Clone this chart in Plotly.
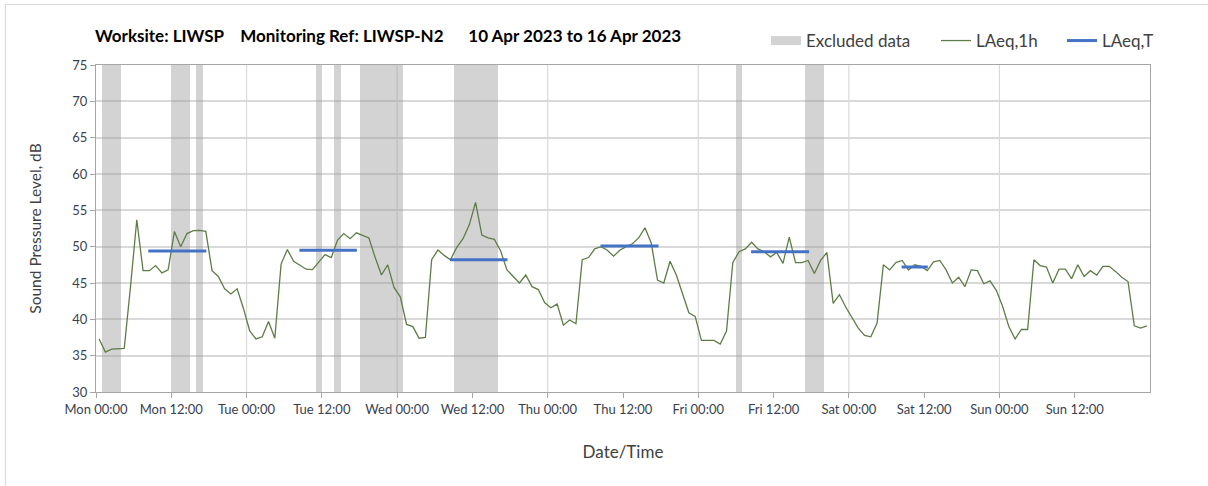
import pandas as pd
import plotly.graph_objects as go

# ---- data ----
laeq_1h = [
    37.3, 35.5, 35.9, 36.0, 36.0, 44.5, 53.7, 46.7, 46.7, 47.4, 46.4, 46.8,
    52.1, 50.0, 51.8, 52.2, 52.25, 52.1, 46.7, 45.9, 44.2, 43.5, 44.2, 41.5,
    38.4, 37.3, 37.6, 39.7, 37.4, 47.6, 49.6, 48.0, 47.5, 46.9, 46.85, 47.9,
    48.9, 48.5, 50.9, 51.8, 51.1, 51.9, 51.5, 51.2, 48.5, 46.1, 47.5, 44.4,
    43.1, 39.3, 39.0, 37.4, 37.5, 48.2, 49.55, 48.8, 48.2, 49.9, 51.1, 53.0,
    56.1, 51.6, 51.2, 51.0, 49.4, 46.8, 45.9, 45.0, 46.1, 44.5, 44.1, 42.3,
    41.6, 42.1, 39.2, 39.9, 39.4, 48.2, 48.5, 49.7, 50.0, 49.5, 48.7, 49.5,
    50.0, 50.4, 51.2, 52.6, 50.5, 45.4, 45.0, 48.0, 46.1, 43.6, 40.9, 40.4,
    37.1, 37.1, 37.1, 36.6, 38.4, 47.8, 49.3, 49.7, 50.6, 49.7, 49.3, 48.6,
    49.2, 47.7, 51.3, 47.8, 47.8, 48.1, 46.3, 48.1, 49.2, 42.2, 43.4, 41.7,
    40.2, 38.8, 37.8, 37.6, 39.5, 47.5, 46.8, 47.8, 48.1, 46.8, 47.5, 47.3,
    46.7, 47.9, 48.1, 46.8, 45.0, 45.8, 44.5, 46.8, 46.7, 44.9, 45.3, 44.0,
    41.8, 39.0, 37.3, 38.6, 38.6, 48.2, 47.4, 47.2, 45.0, 46.9, 46.9, 45.6,
    47.5, 45.9, 46.7, 46.1, 47.3, 47.3, 46.6, 45.8, 45.2, 39.1, 38.8, 39.1,
]
times_1h = pd.date_range("2023-04-10 00:30", periods=len(laeq_1h), freq="h")

excl_start = ["2023-04-10 01:00", "2023-04-10 12:00", "2023-04-10 16:00",
              "2023-04-11 11:00", "2023-04-11 14:00", "2023-04-11 18:00",
              "2023-04-12 09:00", "2023-04-14 06:00", "2023-04-14 17:00"]
excl_end = ["2023-04-10 04:00", "2023-04-10 15:00", "2023-04-10 17:00",
            "2023-04-11 12:00", "2023-04-11 15:00", "2023-04-12 01:00",
            "2023-04-12 16:00", "2023-04-14 07:00", "2023-04-14 20:00"]

laeqT_start = ["2023-04-10 08:20", "2023-04-11 08:25", "2023-04-12 08:25",
               "2023-04-13 08:25", "2023-04-14 08:25", "2023-04-15 08:25"]
laeqT_end = ["2023-04-10 17:35", "2023-04-11 17:35", "2023-04-12 17:35",
             "2023-04-13 17:40", "2023-04-14 17:40", "2023-04-15 12:35"]
laeqT_val = [49.4, 49.5, 48.2, 50.1, 49.3, 47.2]

x_range = ["2023-04-10 00:00", "2023-04-17 00:00"]
tick_times = pd.date_range("2023-04-10 00:00", "2023-04-16 12:00", freq="12h")
tick_labels = [t.strftime("%a %H:%M") for t in tick_times]
midnights = pd.date_range("2023-04-11", "2023-04-16", freq="D")
y_min, y_max = 30, 75
title_text = ("Worksite: LIWSP&nbsp;&nbsp;&nbsp;&nbsp;Monitoring Ref: LIWSP-N2"
              "&nbsp;&nbsp;&nbsp;&nbsp;&nbsp;&nbsp;10 Apr 2023 to 16 Apr 2023")

FONT = "Lato"
TXT = "#404040"
TICK = "#3a3f4f"
GRID = "#d9d9d9"
AXIS = "#a6a6a6"
BAND = "rgba(150,150,150,0.42)"

# ---- figure ----
es = pd.to_datetime(excl_start)
ee = pd.to_datetime(excl_end)
centers = es + (ee - es) / 2
widths = [(b - a).total_seconds() * 1000 for a, b in zip(es, ee)]

fig = go.Figure()
fig.add_trace(go.Bar(
    x=centers, y=[y_max - y_min] * len(centers), base=y_min, width=widths,
    marker=dict(color=BAND, line=dict(width=0)), showlegend=False,
    hoverinfo="skip", name="Excluded data",
))
fig.add_trace(go.Scatter(
    x=[None], y=[None], mode="lines", name="Excluded data",
    line=dict(color="#d3d3d3", width=9), legend="legend",
))
fig.add_trace(go.Scatter(
    x=times_1h, y=laeq_1h, mode="lines", name="LAeq,1h",
    line=dict(color="#5e7d46", width=1.3), legend="legend2",
))
tx, ty = [], []
for a, b, v in zip(laeqT_start, laeqT_end, laeqT_val):
    tx += [pd.Timestamp(a), pd.Timestamp(b), None]
    ty += [v, v, None]
fig.add_trace(go.Scatter(
    x=tx, y=ty, mode="lines", name="LAeq,T",
    line=dict(color="#4472c4", width=3), legend="legend3",
))

W, H = 1208, 486
L, R, T, B = 96, 58, 65, 94
for d in midnights:
    fig.add_shape(type="line", xref="x", yref="paper", x0=d, x1=d, y0=0, y1=1,
                  line=dict(color=GRID, width=1.2), layer="below")

pw, ph = W - L - R, H - T - B
def px2paper_x(px):
    return (px - L) / pw
def px2paper_y(py):
    return (H - B - py) / ph
fig.add_shape(type="rect", xref="paper", yref="paper",
              x0=px2paper_x(5.5), x1=px2paper_x(W + 10),
              y0=px2paper_y(H + 10), y1=px2paper_y(4.5),
              line=dict(color="#d9d9d9", width=1.2), fillcolor="rgba(0,0,0,0)",
              layer="below")

leg_common = dict(orientation="h", xref="container", yref="container",
                  xanchor="left", yanchor="middle", bgcolor="rgba(0,0,0,0)",
                  font=dict(family=FONT, size=17, color=TXT))
fig.update_layout(
    width=W, height=H,
    margin=dict(l=L, r=R, t=T, b=B, autoexpand=False),
    paper_bgcolor="white", plot_bgcolor="white",
    font=dict(family=FONT, color=TXT),
    bargap=0,
    title=dict(text="<b>" + title_text + "</b>", xref="container", yref="container",
               x=95 / W, y=1 - 36 / H, xanchor="left", yanchor="middle",
               font=dict(family=FONT, size=17, color="#000000")),
    legend=dict(x=766 / W, y=1 - 41 / H, **leg_common),
    legend2=dict(x=936 / W, y=1 - 41 / H, **leg_common),
    legend3=dict(x=1062 / W, y=1 - 41 / H, **leg_common),
    xaxis=dict(
        type="date", range=x_range, tickmode="array",
        tickvals=tick_times, ticktext=tick_labels,
        showgrid=False, showline=True, linecolor=AXIS, linewidth=1.3, mirror=True,
        ticks="outside", ticklen=5, tickcolor=AXIS,
        tickfont=dict(family=FONT, size=13, color=TICK),
        title=dict(text="Date/Time", standoff=30, font=dict(family=FONT, size=17, color=TXT)),
        zeroline=False, automargin=False,
    ),
    yaxis=dict(
        range=[y_min, y_max], dtick=5, tick0=30,
        showgrid=True, gridcolor=GRID, gridwidth=1.5,
        showline=True, linecolor=AXIS, linewidth=1.3, mirror=True,
        ticks="outside", ticklen=5, tickcolor=AXIS,
        tickfont=dict(family=FONT, size=13, color=TICK),
        title=dict(text="Sound Pressure Level, dB", standoff=26,
                   font=dict(family=FONT, size=15.5, color=TXT)),
        zeroline=False, automargin=False,
    ),
)
fig.write_html("out.html", config={"displayModeBar": False},
               post_script="document.body.style.margin='0';document.body.style.overflow='hidden';")
